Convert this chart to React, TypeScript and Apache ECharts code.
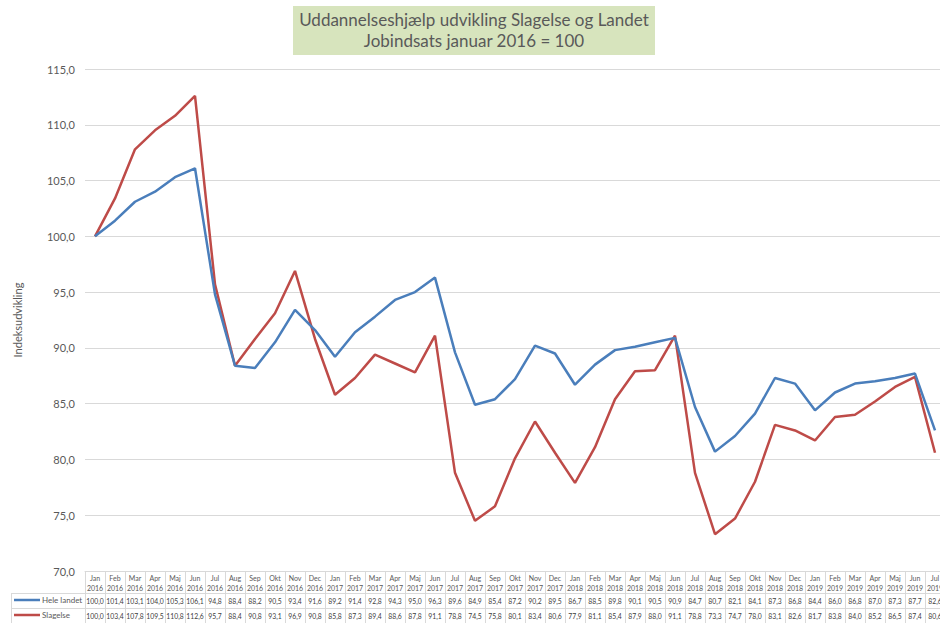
import React, { useEffect, useRef } from "react";
import * as echarts from "echarts";

const months = ["Jan", "Feb", "Mar", "Apr", "Maj", "Jun", "Jul", "Aug", "Sep", "Okt", "Nov", "Dec"];
const years = [2016, 2017, 2018, 2019];
const categories: string[] = [];
years.forEach((y) => {
  months.forEach((m, i) => {
    if (y === 2019 && i > 6) return;
    categories.push(m + "\n" + y);
  });
});

const heleLandet = [
  100.0, 101.4, 103.1, 104.0, 105.3, 106.1, 94.8, 88.4, 88.2, 90.5, 93.4, 91.6,
  89.2, 91.4, 92.8, 94.3, 95.0, 96.3, 89.6, 84.9, 85.4, 87.2, 90.2, 89.5,
  86.7, 88.5, 89.8, 90.1, 90.5, 90.9, 84.7, 80.7, 82.1, 84.1, 87.3, 86.8,
  84.4, 86.0, 86.8, 87.0, 87.3, 87.7, 82.6,
];
const slagelse = [
  100.0, 103.4, 107.8, 109.5, 110.8, 112.6, 95.7, 88.4, 90.8, 93.1, 96.9, 90.8,
  85.8, 87.3, 89.4, 88.6, 87.8, 91.1, 78.8, 74.5, 75.8, 80.1, 83.4, 80.6,
  77.9, 81.1, 85.4, 87.9, 88.0, 91.1, 78.8, 73.3, 74.7, 78.0, 83.1, 82.6,
  81.7, 83.8, 84.0, 85.2, 86.5, 87.4, 80.6,
];

const seriesNames = ["Hele landet", "Slagelse"];
const titleLines = ["Uddannelseshjælp udvikling Slagelse og Landet", "Jobindsats januar 2016 = 100"];
const yAxisName = "Indeksudvikling";

const FONT = "Lato, 'Open Sans', sans-serif";
const fmt = (v: number) => v.toFixed(1).replace(".", ",");

export default function App() {
  const ref = useRef<HTMLDivElement>(null);
  useEffect(() => {
    if (!ref.current) return;
    const chart = echarts.init(ref.current, null, { renderer: "svg" });
    const valueAxis = (offset: number, data: number[]) => ({
      type: "category",
      data: categories,
      gridIndex: 0,
      position: "bottom",
      offset,
      boundaryGap: true,
      axisLine: { show: false },
      axisTick: { show: false },
      splitLine: { show: false },
      axisLabel: {
        interval: 0,
        margin: 3,
        fontSize: 6.8,
        lineHeight: 10,
        color: "#404040",
        fontFamily: FONT,
        formatter: (_v: string, i: number) => fmt(data[i]),
      },
    });
    chart.setOption({
      animation: false,
      backgroundColor: "#ffffff",
      textStyle: { fontFamily: FONT },
      grid: { left: 85, width: 860, top: 69, height: 502, containLabel: false, outerBoundsMode: "none" },
      legend: [
        {
          data: [seriesNames[0]],
          left: 14,
          top: 596,
          icon: "rect",
          itemWidth: 26,
          itemHeight: 2.5,
          selectedMode: false,
          padding: 0,
          textStyle: { fontSize: 8, color: "#595959", fontFamily: FONT, padding: [0, 0, 0, -3] },
        },
        {
          data: [seriesNames[1]],
          left: 14,
          top: 611,
          icon: "rect",
          itemWidth: 26,
          itemHeight: 2.5,
          selectedMode: false,
          padding: 0,
          textStyle: { fontSize: 8, color: "#595959", fontFamily: FONT, padding: [0, 0, 0, -3] },
        },
      ],
      xAxis: [
        {
          type: "category",
          data: categories,
          boundaryGap: true,
          axisLine: { show: true, lineStyle: { color: "#d9d9d9", width: 1 } },
          axisTick: { show: true, interval: 0, length: 52, lineStyle: { color: "#d9d9d9" } },
          axisLabel: {
            interval: 0,
            margin: 2,
            fontSize: 7,
            lineHeight: 10,
            color: "#595959",
            fontFamily: FONT,
          },
        },
        valueAxis(22, heleLandet),
        valueAxis(37, slagelse),
      ],
      yAxis: {
        type: "value",
        min: 70,
        max: 115,
        interval: 5,
        name: yAxisName,
        nameLocation: "middle",
        nameRotate: 90,
        nameGap: 62,
        nameTextStyle: { fontSize: 11, color: "#595959", fontFamily: FONT },
        axisLine: { show: false },
        axisTick: { show: false },
        axisLabel: {
          margin: 10,
          fontSize: 11,
          color: "#595959",
          fontFamily: FONT,
          formatter: (v: number) => fmt(v),
        },
        splitLine: { show: true, lineStyle: { color: "#d9d9d9", width: 1 } },
      },
      series: [
        {
          name: seriesNames[0],
          type: "line",
          data: heleLandet,
          xAxisIndex: 0,
          symbol: "none",
          lineStyle: { color: "#4a7ebb", width: 2.5 },
          itemStyle: { color: "#4a7ebb" },
          z: 3,
        },
        {
          name: seriesNames[1],
          type: "line",
          data: slagelse,
          xAxisIndex: 0,
          symbol: "none",
          lineStyle: { color: "#be4b48", width: 2.5 },
          itemStyle: { color: "#be4b48" },
          z: 2,
        },
      ],
      graphic: [
        {
          type: "rect",
          shape: { x: 293, y: 6, width: 362, height: 49 },
          style: { fill: "#d7e4bd" },
          z: 1,
        },
        {
          type: "text",
          x: 474,
          y: 9,
          z: 2,
          style: {
            text: titleLines.join("\n"),
            fill: "#595959",
            fontSize: 17,
            lineHeight: 21,
            fontFamily: FONT,
            align: "center",
            verticalAlign: "top",
          },
        },
        { type: "line", shape: { x1: 11, y1: 593.5, x2: 940, y2: 593.5 }, style: { stroke: "#d9d9d9", lineWidth: 1 } },
        { type: "line", shape: { x1: 11, y1: 608.5, x2: 940, y2: 608.5 }, style: { stroke: "#d9d9d9", lineWidth: 1 } },
        { type: "line", shape: { x1: 11.5, y1: 593, x2: 11.5, y2: 623 }, style: { stroke: "#d9d9d9", lineWidth: 1 } },
      ],
    });
    return () => chart.dispose();
  }, []);
  return <div ref={ref} style={{ width: 940, height: 623, position: "absolute", left: 0, top: 0 }} />;
}
